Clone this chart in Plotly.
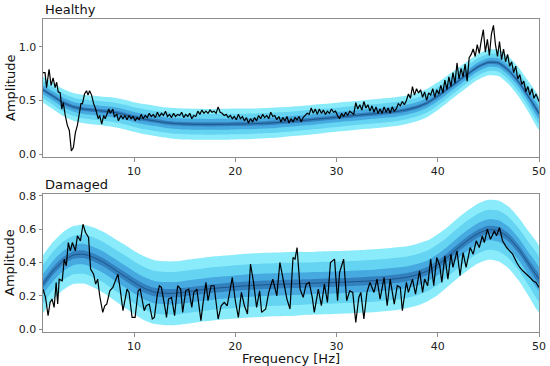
import plotly.graph_objects as go

# ---------------- data ----------------
band_freq = list(range(1, 51))

healthy_mean = [0.60, 0.54, 0.48, 0.44, 0.42, 0.41, 0.40, 0.39, 0.37, 0.345,
                0.325, 0.31, 0.295, 0.285, 0.28, 0.278, 0.277, 0.277, 0.278, 0.28,
                0.281, 0.284, 0.288, 0.293, 0.30, 0.308, 0.316, 0.325, 0.334, 0.343,
                0.352, 0.361, 0.37, 0.378, 0.387, 0.398, 0.415, 0.44, 0.48, 0.54,
                0.61, 0.68, 0.75, 0.815, 0.855, 0.85, 0.78, 0.67, 0.53, 0.38]
healthy_sigma = [0.040, 0.041, 0.042, 0.043, 0.044, 0.045, 0.045, 0.046, 0.046, 0.046,
                 0.047, 0.047, 0.047, 0.048, 0.048, 0.048, 0.048, 0.048, 0.048, 0.048,
                 0.048, 0.047, 0.047, 0.047, 0.046, 0.046, 0.046, 0.046, 0.045, 0.045,
                 0.045, 0.045, 0.045, 0.045, 0.045, 0.045, 0.044, 0.044, 0.044, 0.043,
                 0.042, 0.041, 0.040, 0.040, 0.040, 0.041, 0.043, 0.045, 0.048, 0.050]

damaged_mean = [0.27, 0.35, 0.41, 0.445, 0.45, 0.43, 0.40, 0.36, 0.32, 0.28,
                0.245, 0.222, 0.215, 0.215, 0.222, 0.23, 0.238, 0.245, 0.25, 0.255,
                0.26, 0.263, 0.266, 0.268, 0.27, 0.272, 0.274, 0.276, 0.278, 0.28,
                0.282, 0.285, 0.288, 0.292, 0.297, 0.303, 0.312, 0.327, 0.35, 0.387,
                0.435, 0.487, 0.535, 0.575, 0.597, 0.59, 0.55, 0.48, 0.39, 0.30]
damaged_sigma = [0.058, 0.058, 0.058, 0.058, 0.059, 0.060, 0.061, 0.062, 0.063, 0.063,
                 0.064, 0.064, 0.064, 0.064, 0.064, 0.064, 0.064, 0.064, 0.064, 0.064,
                 0.064, 0.064, 0.064, 0.064, 0.064, 0.064, 0.063, 0.063, 0.063, 0.063,
                 0.063, 0.063, 0.063, 0.063, 0.063, 0.063, 0.062, 0.062, 0.061, 0.061,
                 0.060, 0.060, 0.060, 0.060, 0.060, 0.061, 0.062, 0.063, 0.065, 0.066]

band_levels = [3.0, 2.0, 1.05, 0.4]

healthy_freq = [1.0, 1.2, 1.35, 1.6, 1.8, 2.0, 2.2, 2.35, 2.5, 2.7, 2.85, 3.0, 3.2, 3.4, 3.6, 3.8,
                4.0, 4.2, 4.4, 4.6, 4.75, 4.9, 5.1, 5.3, 5.45, 5.6, 5.8, 6.0, 6.2, 6.45, 6.6, 6.8,
                7.0, 7.15, 7.5, 7.65, 7.9, 8.05, 8.3, 8.45, 8.7, 8.9,
                9.1, 9.3, 9.5, 9.7, 9.9, 10.1, 10.3, 10.5, 10.7, 10.9, 11.1, 11.3, 11.5, 11.7, 11.9,
                12.1, 12.3, 12.5, 12.7, 12.9, 13.1, 13.3, 13.5, 13.7, 13.9, 14.1, 14.3, 14.5, 14.7,
                14.9, 15.1, 15.3, 15.5, 15.7, 15.9, 16.1, 16.3, 16.5, 16.7, 16.9, 17.1, 17.3, 17.5,
                17.7, 17.9, 18.1, 18.3, 18.5, 18.7, 18.9, 19.1, 19.3, 19.5, 19.7, 19.9, 20.1, 20.3,
                20.5, 20.7, 20.9, 21.1, 21.3, 21.5, 21.7, 21.9, 22.1, 22.3, 22.5, 22.7, 22.9, 23.1,
                23.3, 23.5, 23.7, 23.9, 24.1, 24.3, 24.5, 24.7, 24.9, 25.1, 25.3, 25.5, 25.7, 25.9,
                26.1, 26.3, 26.5, 26.7, 26.9, 27.1, 27.3, 27.5, 27.7, 27.9, 28.1, 28.3, 28.5, 28.7,
                28.9, 29.1, 29.3, 29.5, 29.7, 29.9, 30.1, 30.3, 30.5, 30.7, 30.9, 31.1, 31.3, 31.5,
                31.7, 31.9, 32.1, 32.3, 32.5, 32.7, 32.9, 33.1, 33.3, 33.5, 33.7, 33.9, 34.1, 34.3,
                34.5, 34.7, 34.9, 35.1, 35.3, 35.5, 35.7, 35.9, 36.1, 36.3, 36.5, 36.7, 36.9, 37.1,
                37.3, 37.5, 37.7, 37.9, 38.1, 38.3, 38.5, 38.7, 38.9, 39.1, 39.3, 39.5, 39.7, 39.9,
                40.1, 40.3, 40.5, 40.7, 40.9, 41.1, 41.3, 41.5, 41.7, 41.9, 42.1, 42.3, 42.5, 42.7,
                42.9, 43.1, 43.3, 43.5, 43.7, 43.9, 44.1, 44.3, 44.5, 44.7, 44.9, 45.1, 45.3, 45.5,
                45.7, 45.9, 46.1, 46.3, 46.5, 46.7, 46.9, 47.1, 47.3, 47.5, 47.7, 47.9, 48.1, 48.3,
                48.5, 48.7, 48.9, 49.1, 49.3, 49.5, 49.7, 50.0]
healthy_amp = [0.76, 0.76, 0.62, 0.79, 0.64, 0.71, 0.62, 0.67, 0.58, 0.57, 0.42, 0.48, 0.36, 0.27, 0.22, 0.03,
               0.06, 0.20, 0.27, 0.38, 0.47, 0.47, 0.56, 0.59, 0.55, 0.59, 0.55, 0.47, 0.42, 0.33, 0.36, 0.28,
               0.36, 0.33, 0.42, 0.38, 0.42, 0.35, 0.37, 0.31, 0.36, 0.33,
               0.36, 0.32, 0.36, 0.33, 0.35, 0.31, 0.34, 0.32, 0.37, 0.33, 0.36, 0.34, 0.38, 0.35, 0.37,
               0.34, 0.39, 0.35, 0.38, 0.36, 0.40, 0.35, 0.37, 0.34, 0.38, 0.35, 0.37, 0.36, 0.39,
               0.34, 0.37, 0.35, 0.38, 0.33, 0.36, 0.35, 0.40, 0.37, 0.41, 0.38, 0.40, 0.38, 0.41,
               0.39, 0.40, 0.38, 0.44, 0.39, 0.38, 0.36, 0.37, 0.34, 0.36, 0.33, 0.35, 0.32, 0.37,
               0.33, 0.35, 0.31, 0.34, 0.29, 0.33, 0.30, 0.34, 0.31, 0.36, 0.33, 0.37, 0.34, 0.36,
               0.33, 0.39, 0.35, 0.36, 0.32, 0.35, 0.30, 0.34, 0.31, 0.35, 0.29, 0.33, 0.30, 0.34,
               0.32, 0.35, 0.30, 0.34, 0.36, 0.38, 0.37, 0.43, 0.38, 0.42, 0.37, 0.42, 0.38, 0.41,
               0.37, 0.40, 0.38, 0.42, 0.39, 0.40, 0.36, 0.33, 0.38, 0.35, 0.39, 0.36, 0.40, 0.38,
               0.37, 0.48, 0.42, 0.46, 0.41, 0.49, 0.43, 0.46, 0.40, 0.45, 0.39, 0.44, 0.38, 0.42,
               0.38, 0.44, 0.39, 0.43, 0.38, 0.44, 0.40, 0.42, 0.47, 0.45, 0.49, 0.46, 0.50, 0.56,
               0.52, 0.63, 0.55, 0.61, 0.57, 0.60, 0.53, 0.58, 0.50, 0.57, 0.55, 0.61, 0.53, 0.60,
               0.56, 0.64, 0.57, 0.69, 0.60, 0.72, 0.63, 0.76, 0.66, 0.85, 0.70, 0.80, 0.72, 0.84,
               0.68, 0.90, 0.93, 0.98, 0.91, 1.02, 0.94, 1.06, 1.16, 0.95, 1.07, 0.92, 1.12, 1.20,
               1.02, 0.91, 1.05, 0.88, 0.98, 0.86, 0.93, 0.82, 0.86, 0.76, 0.82, 0.70, 0.74, 0.65,
               0.68, 0.58, 0.63, 0.55, 0.61, 0.52, 0.56, 0.49]

damaged_freq = [1.0, 1.25, 1.5, 1.7, 1.9, 2.1, 2.3, 2.45, 2.6, 2.9, 3.1, 3.3, 3.5, 3.7, 3.9, 4.2,
                4.4, 4.7, 4.95, 5.2, 5.5, 5.7, 6.0, 6.2, 6.4, 6.6, 6.9, 7.1, 7.3, 7.6, 7.9, 8.2,
                8.4, 8.6, 8.9, 9.3, 9.5, 9.8, 10.1, 10.4, 10.6, 11.0, 11.2, 11.5, 11.8, 12.0, 12.3,
                12.5, 12.7, 13.1, 13.2, 13.4, 13.7, 14.0, 14.3, 14.6, 14.8, 15.1, 15.4, 15.7, 15.9,
                16.2, 16.6, 16.8, 17.1, 17.3, 17.6, 17.9, 18.3, 18.6, 18.9, 19.2, 19.7, 20.0, 20.3,
                20.6, 20.9, 21.2, 21.5, 21.8, 22.1, 22.4, 22.6, 23.0, 23.3, 23.7,
                24.1, 24.4, 24.7, 25.1, 25.4, 25.7, 25.9, 26.1, 26.4, 26.7, 27.0, 27.3, 27.6, 27.8,
                28.2, 28.5, 28.8, 29.1, 29.4, 29.8, 30.1, 30.3, 30.7, 31.0, 31.3, 31.6, 31.9, 32.2,
                32.4, 32.7, 33.0, 33.3, 33.7, 34.0, 34.3, 34.7, 35.0, 35.3, 35.7, 36.0, 36.3, 36.5,
                36.9, 37.1, 37.5, 37.8, 38.2, 38.5, 38.7, 39.0, 39.3, 39.6, 39.9, 40.2, 40.4, 40.7,
                41.0, 41.3, 41.5, 41.9, 42.2, 42.5, 42.8, 43.2, 43.5, 43.8, 44.1, 44.4, 44.6, 44.9,
                45.2, 45.6, 45.8, 46.1, 46.4, 46.8, 47.1, 47.4, 47.8, 48.1, 48.4, 48.7, 49.1, 49.4,
                49.7, 50.0]
damaged_amp = [0.24, 0.19, 0.08, 0.16, 0.18, 0.13, 0.28, 0.15, 0.30, 0.29, 0.42, 0.38, 0.52, 0.47, 0.52, 0.47,
               0.56, 0.53, 0.63, 0.58, 0.55, 0.36, 0.33, 0.27, 0.30, 0.20, 0.10, 0.14, 0.15, 0.23, 0.25, 0.30,
               0.33, 0.25, 0.11, 0.24, 0.22, 0.07, 0.07, 0.23, 0.24, 0.11, 0.14, 0.15, 0.06, 0.07, 0.21,
               0.26, 0.25, 0.11, 0.07, 0.18, 0.19, 0.08, 0.26, 0.24, 0.10, 0.23, 0.24, 0.13, 0.22,
               0.24, 0.05, 0.15, 0.28, 0.17, 0.26, 0.26, 0.06, 0.14, 0.16, 0.14, 0.31, 0.17, 0.07,
               0.22, 0.14, 0.09, 0.39, 0.28, 0.13, 0.23, 0.10, 0.12, 0.22, 0.30,
               0.20, 0.40, 0.30, 0.18, 0.12, 0.43, 0.42, 0.49, 0.24, 0.19, 0.27, 0.28, 0.19, 0.10,
               0.24, 0.14, 0.27, 0.16, 0.40, 0.42, 0.17, 0.34, 0.42, 0.17, 0.23, 0.22, 0.04, 0.19,
               0.22, 0.06, 0.22, 0.28, 0.22, 0.30, 0.18, 0.31, 0.14, 0.30, 0.15, 0.26, 0.25, 0.11,
               0.28, 0.22, 0.30, 0.21, 0.35, 0.22, 0.30, 0.26, 0.42, 0.26, 0.43, 0.38, 0.28, 0.44,
               0.30, 0.45, 0.37, 0.47, 0.32, 0.46, 0.37, 0.49, 0.45, 0.53, 0.49, 0.56, 0.52, 0.60,
               0.54, 0.59, 0.56, 0.61, 0.53, 0.49, 0.47, 0.45, 0.40, 0.37, 0.35, 0.33, 0.31, 0.29,
               0.28, 0.25]

x_ticks = [10, 20, 30, 40, 50]
healthy_yticks = [0.0, 0.5, 1.0]
damaged_yticks = [0.0, 0.2, 0.4, 0.6, 0.8]

# ---------------- styling ----------------
band_colors = ["rgb(138,236,250)", "rgb(100,212,242)", "rgb(70,170,224)", "rgb(50,128,190)"]
mean_color = "rgb(28,84,134)"
font_family = "DejaVu Sans"

fig = go.Figure()


def add_panel(mean, sigma, freq, amp, xa, ya):
    for lvl, col in zip(band_levels, band_colors):
        upper = [m + lvl * s for m, s in zip(mean, sigma)]
        lower = [m - lvl * s for m, s in zip(mean, sigma)]
        fig.add_trace(go.Scatter(
            x=band_freq + band_freq[::-1], y=upper + lower[::-1],
            fill="toself", fillcolor=col, mode="lines",
            line=dict(width=0, color=col, shape="spline", smoothing=0.6),
            hoverinfo="skip", showlegend=False, xaxis=xa, yaxis=ya))
    fig.add_trace(go.Scatter(
        x=band_freq, y=mean, mode="lines",
        line=dict(color=mean_color, width=1, shape="spline", smoothing=0.6),
        showlegend=False, xaxis=xa, yaxis=ya))
    fig.add_trace(go.Scatter(
        x=freq, y=amp, mode="lines", line=dict(color="black", width=1.2),
        showlegend=False, xaxis=xa, yaxis=ya))


add_panel(healthy_mean, healthy_sigma, healthy_freq, healthy_amp, "x", "y")
add_panel(damaged_mean, damaged_sigma, damaged_freq, damaged_amp, "x2", "y2")

axis_common = dict(showline=True, linecolor="#8c8c8c", linewidth=1, mirror=True,
                   ticks="outside", ticklen=3.5, tickcolor="#8c8c8c", tickwidth=1,
                   showgrid=False, zeroline=False, automargin=False,
                   tickfont=dict(family=font_family, size=11, color="#222"))

top_dom = [0.559, 1.0]
bot_dom = [0.0, 0.441]

fig.update_layout(
    width=550, height=366, autosize=False,
    margin=dict(l=43, r=11, t=19, b=34, pad=0),
    paper_bgcolor="white", plot_bgcolor="white",
    font=dict(family=font_family, size=12, color="#222"),
    xaxis=dict(domain=[0, 1], range=[1, 50], tickvals=x_ticks, anchor="y", **axis_common),
    yaxis=dict(domain=top_dom, range=[-0.028, 1.26], tickvals=healthy_yticks,
               ticktext=["0.0", "0.5", "1.0"], anchor="x", **axis_common),
    xaxis2=dict(domain=[0, 1], range=[1, 50], tickvals=x_ticks, anchor="y2", **axis_common),
    yaxis2=dict(domain=bot_dom, range=[-0.018, 0.812], tickvals=damaged_yticks,
                ticktext=["0.0", "0.2", "0.4", "0.6", "0.8"], anchor="x2", **axis_common),
    annotations=[
        dict(text="Healthy", xref="paper", yref="paper", x=0, y=top_dom[1],
             xanchor="left", yanchor="bottom", showarrow=False,
             font=dict(family=font_family, size=13, color="#111")),
        dict(text="Damaged", xref="paper", yref="paper", x=0, y=bot_dom[1],
             xanchor="left", yanchor="bottom", showarrow=False,
             font=dict(family=font_family, size=13, color="#111")),
        dict(text="Amplitude", xref="paper", yref="paper", x=-33 / 496,
             y=(top_dom[0] + top_dom[1]) / 2, textangle=-90, xanchor="center",
             yanchor="middle", showarrow=False,
             font=dict(family=font_family, size=13, color="#111")),
        dict(text="Amplitude", xref="paper", yref="paper", x=-33 / 496,
             y=(bot_dom[0] + bot_dom[1]) / 2, textangle=-90, xanchor="center",
             yanchor="middle", showarrow=False,
             font=dict(family=font_family, size=13, color="#111")),
        dict(text="Frequency [Hz]", xref="paper", yref="paper", x=0.5, y=0,
             xanchor="center", yanchor="top", yshift=-16.5, showarrow=False,
             font=dict(family=font_family, size=13, color="#111")),
    ],
)

fig.write_html("out.html", config={"displayModeBar": False, "responsive": False},
               post_script="document.body.style.margin='0px';document.body.style.overflow='hidden';")
